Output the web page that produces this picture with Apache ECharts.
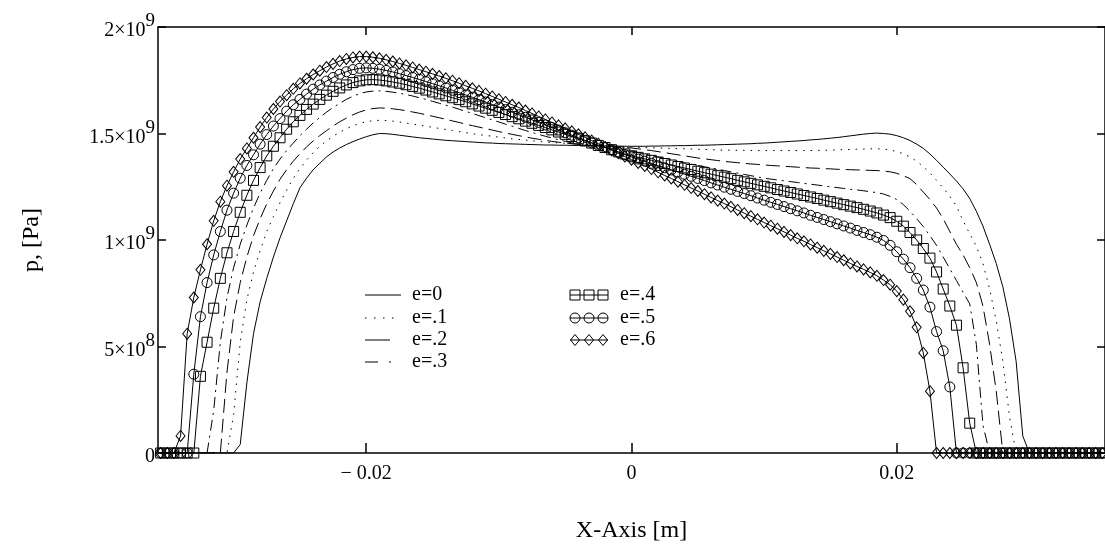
<!DOCTYPE html>
<html><head><meta charset="utf-8">
<script src="https://cdn.jsdelivr.net/npm/echarts@6/dist/echarts.min.js"></script>
<style>html,body{margin:0;padding:0;background:#fff}#c{width:1105px;height:548px}</style>
</head><body><div id="c"></div>
<script>
// x positions in mm (axis labelled in metres), pressure in units of 1e9 Pa
const xsMM = [
 -35.5,-35,-34.5,-34,-33.5,-33,-32.5,-32,-31.5,-31,
 -30.5,-30,-29.5,-29,-28.5,-28,-27.5,-27,-26.5,-26,
 -25.5,-25,-24.5,-24,-23.5,-23,-22.5,-22,-21.5,-21,
 -20.5,-20,-19.5,-19,-18.5,-18,-17.5,-17,-16.5,-16,
 -15.5,-15,-14.5,-14,-13.5,-13,-12.5,-12,-11.5,-11,
 -10.5,-10,-9.5,-9,-8.5,-8,-7.5,-7,-6.5,-6,
 -5.5,-5,-4.5,-4,-3.5,-3,-2.5,-2,-1.5,-1,
 -0.5,0,0.5,1,1.5,2,2.5,3,3.5,4,
 4.5,5,5.5,6,6.5,7,7.5,8,8.5,9,
 9.5,10,10.5,11,11.5,12,12.5,13,13.5,14,
 14.5,15,15.5,16,16.5,17,17.5,18,18.5,19,
 19.5,20,20.5,21,21.5,22,22.5,23,23.5,24,
 24.5,25,25.5,26,26.5,27,27.5,28,28.5,29,
 29.5,30,30.5,31,31.5,32,32.5,33,33.5,34,34.5,35,35.5
];
const pE0 = [
 0,0,0,0,0,0,0,0,0,0,
 0,0,0.04,0.33,0.56,0.71,0.82,0.92,1.01,1.09,
 1.17,1.245,1.29,1.33,1.36,1.39,1.413,1.432,1.448,1.462,
 1.474,1.485,1.494,1.5,1.499,1.496,1.492,1.488,1.484,1.48,
 1.477,1.474,1.471,1.468,1.466,1.464,1.462,1.46,1.458,1.456,
 1.455,1.453,1.452,1.451,1.45,1.449,1.448,1.447,1.446,1.446,
 1.445,1.445,1.444,1.444,1.443,1.443,1.442,1.442,1.441,1.441,
 1.44,1.44,1.44,1.44,1.441,1.441,1.442,1.442,1.443,1.443,
 1.444,1.445,1.445,1.446,1.447,1.448,1.449,1.45,1.451,1.452,
 1.454,1.455,1.457,1.459,1.461,1.463,1.465,1.467,1.47,1.472,
 1.475,1.478,1.481,1.485,1.489,1.493,1.497,1.5,1.502,1.5,
 1.497,1.49,1.48,1.467,1.45,1.43,1.404,1.374,1.342,1.31,
 1.277,1.24,1.195,1.135,1.065,0.98,0.89,0.78,0.63,0.43,
 0.08,0,0,0,0,0,0,0,0,0,0,0,0
];
const pE1 = [
 0,0,0,0,0,0,0,0,0,0,
 0,0.18,0.52,0.72,0.85,0.95,1.04,1.11,1.175,1.235,
 1.29,1.335,1.375,1.41,1.44,1.465,1.487,1.506,1.522,1.536,
 1.547,1.555,1.56,1.562,1.561,1.558,1.554,1.549,1.544,1.539,
 1.534,1.529,1.524,1.519,1.514,1.509,1.504,1.499,1.495,1.491,
 1.487,1.483,1.479,1.475,1.472,1.469,1.466,1.463,1.46,1.458,
 1.456,1.454,1.452,1.45,1.448,1.446,1.444,1.442,1.44,1.438,
 1.437,1.436,1.435,1.434,1.433,1.432,1.431,1.43,1.429,1.428,
 1.427,1.426,1.425,1.424,1.423,1.422,1.422,1.421,1.421,1.42,
 1.42,1.42,1.42,1.42,1.42,1.42,1.42,1.42,1.42,1.421,
 1.421,1.422,1.423,1.424,1.425,1.426,1.427,1.428,1.428,1.427,
 1.423,1.415,1.405,1.39,1.37,1.345,1.315,1.28,1.245,1.205,
 1.16,1.09,1.03,0.97,0.89,0.77,0.62,0.43,0.17,0,
 0,0,0,0,0,0,0,0,0,0,0,0,0
];
const pE2 = [
 0,0,0,0,0,0,0,0,0,0,
 0.38,0.64,0.80,0.92,1.02,1.10,1.17,1.23,1.285,1.33,
 1.37,1.405,1.437,1.465,1.49,1.513,1.535,1.555,1.572,1.588,
 1.601,1.611,1.617,1.62,1.619,1.616,1.612,1.607,1.601,1.595,
 1.588,1.581,1.574,1.567,1.559,1.552,1.544,1.537,1.53,1.523,
 1.516,1.509,1.502,1.496,1.49,1.484,1.478,1.473,1.468,1.463,
 1.459,1.455,1.452,1.449,1.446,1.444,1.442,1.44,1.438,1.436,
 1.434,1.432,1.428,1.424,1.42,1.415,1.41,1.405,1.4,1.395,
 1.39,1.385,1.381,1.377,1.373,1.369,1.366,1.363,1.36,1.357,
 1.355,1.352,1.35,1.348,1.346,1.344,1.342,1.34,1.338,1.337,
 1.335,1.334,1.332,1.331,1.33,1.329,1.328,1.327,1.326,1.324,
 1.32,1.313,1.302,1.288,1.26,1.225,1.19,1.15,1.1,1.04,
 0.98,0.93,0.87,0.8,0.69,0.51,0.29,0,0,0,
 0,0,0,0,0,0,0,0,0,0,0,0,0
];
const pE3 = [
 0,0,0,0,0,0,0,0,0.2,0.52,
 0.73,0.87,0.98,1.07,1.15,1.22,1.28,1.335,1.38,1.42,
 1.455,1.49,1.52,1.55,1.575,1.6,1.622,1.642,1.66,1.675,
 1.687,1.695,1.699,1.7,1.698,1.694,1.689,1.683,1.676,1.668,
 1.66,1.651,1.642,1.633,1.624,1.614,1.604,1.594,1.584,1.574,
 1.564,1.554,1.544,1.534,1.524,1.514,1.505,1.496,1.487,1.479,
 1.471,1.463,1.456,1.45,1.445,1.441,1.437,1.434,1.43,1.426,
 1.422,1.418,1.411,1.404,1.397,1.39,1.383,1.376,1.369,1.362,
 1.356,1.35,1.344,1.338,1.332,1.326,1.32,1.314,1.308,1.302,
 1.296,1.29,1.286,1.282,1.278,1.274,1.27,1.266,1.262,1.258,
 1.254,1.25,1.246,1.242,1.238,1.235,1.231,1.227,1.222,1.216,
 1.205,1.19,1.166,1.135,1.1,1.063,1.02,0.975,0.92,0.865,
 0.81,0.755,0.7,0.51,0.13,0,0,0,0,0,
 0,0,0,0,0,0,0,0,0,0,0,0,0
];
const pE4 = [
 0,0,0,0,0,0,0.36,0.52,0.68,0.82,
 0.94,1.04,1.13,1.21,1.28,1.34,1.395,1.44,1.48,1.52,
 1.555,1.585,1.613,1.638,1.66,1.68,1.698,1.714,1.728,1.739,
 1.747,1.752,1.753,1.751,1.747,1.742,1.736,1.729,1.721,1.713,
 1.704,1.695,1.686,1.677,1.668,1.659,1.649,1.639,1.629,1.619,
 1.609,1.599,1.589,1.579,1.569,1.558,1.548,1.538,1.528,1.517,
 1.507,1.496,1.486,1.475,1.465,1.455,1.444,1.434,1.424,1.414,
 1.404,1.395,1.388,1.381,1.374,1.366,1.359,1.352,1.345,1.338,
 1.331,1.323,1.316,1.309,1.302,1.295,1.288,1.28,1.273,1.266,
 1.259,1.252,1.245,1.237,1.23,1.223,1.216,1.209,1.202,1.195,
 1.187,1.18,1.173,1.166,1.159,1.152,1.144,1.136,1.127,1.117,
 1.105,1.088,1.065,1.035,1.0,0.96,0.915,0.85,0.77,0.69,
 0.6,0.4,0.14,0,0,0,0,0,0,0,
 0,0,0,0,0,0,0,0,0,0,0,0,0
];
const pE5 = [
 0,0,0,0,0,0.37,0.64,0.80,0.93,1.04,
 1.14,1.22,1.29,1.35,1.40,1.45,1.495,1.535,1.57,1.605,
 1.635,1.66,1.685,1.708,1.728,1.746,1.763,1.778,1.79,1.80,
 1.806,1.808,1.806,1.802,1.796,1.789,1.781,1.772,1.763,1.754,
 1.744,1.734,1.724,1.714,1.703,1.692,1.681,1.67,1.659,1.648,
 1.636,1.624,1.612,1.60,1.588,1.576,1.564,1.552,1.54,1.528,
 1.516,1.504,1.492,1.48,1.468,1.456,1.445,1.434,1.423,1.412,
 1.401,1.39,1.38,1.37,1.36,1.349,1.339,1.329,1.319,1.309,
 1.299,1.289,1.279,1.268,1.258,1.248,1.238,1.228,1.218,1.208,
 1.197,1.187,1.177,1.167,1.157,1.147,1.137,1.127,1.116,1.106,
 1.096,1.086,1.076,1.066,1.056,1.045,1.035,1.025,1.013,0.998,
 0.975,0.945,0.91,0.87,0.82,0.765,0.685,0.57,0.48,0.31,
 0,0,0,0,0,0,0,0,0,0,
 0,0,0,0,0,0,0,0,0,0,0,0,0
];
const pE6 = [
 0,0,0,0.08,0.56,0.73,0.86,0.98,1.09,1.18,
 1.255,1.32,1.38,1.43,1.48,1.53,1.575,1.615,1.65,1.68,
 1.71,1.735,1.757,1.777,1.795,1.812,1.827,1.84,1.85,1.857,
 1.861,1.861,1.858,1.853,1.846,1.838,1.829,1.82,1.81,1.80,
 1.79,1.78,1.77,1.759,1.748,1.736,1.724,1.712,1.70,1.687,
 1.674,1.661,1.648,1.635,1.622,1.608,1.594,1.58,1.566,1.552,
 1.538,1.524,1.51,1.496,1.482,1.467,1.452,1.437,1.422,1.407,
 1.392,1.377,1.362,1.348,1.333,1.318,1.303,1.289,1.274,1.259,
 1.244,1.23,1.215,1.2,1.185,1.171,1.156,1.141,1.126,1.112,
 1.097,1.082,1.067,1.053,1.038,1.023,1.008,0.994,0.979,0.964,
 0.949,0.935,0.92,0.905,0.89,0.876,0.862,0.848,0.832,0.812,
 0.79,0.76,0.72,0.665,0.59,0.47,0.29,0,0,0,
 0,0,0,0,0,0,0,0,0,0,
 0,0,0,0,0,0,0,0,0,0,0,0,0
];
const seriesNames = ['e=0','e=.1','e=.2','e=.3','e=.4','e=.5','e=.6'];
const xTickValues = [-20, 0, 20];
const xTickLabels = ['\u2212 0.02', '0', '0.02'];
const yTickValues = [0, 0.5, 1, 1.5, 2];
const yTickMantissa = ['0', '5\u00d710', '1\u00d710', '1.5\u00d710', '2\u00d710'];
const yTickExponent = ['', '8', '9', '9', '9'];

const FONT = '"Liberation Serif", "Times New Roman", serif';
const BLACK = '#000';
const allData = [pE0, pE1, pE2, pE3, pE4, pE5, pE6];
const dashes = ['solid', [1.5, 6], [14, 6], [11, 5, 2, 5], 'solid', 'solid', 'solid'];
const symbols = ['none', 'none', 'none', 'none', 'rect', 'circle', 'diamond'];
const symbolSizes = [0, 0, 0, 0, 10, 10, [9, 11]];

const chart = echarts.init(document.getElementById('c'), null, {renderer: 'canvas'});

const series = allData.map((vals, k) => ({
  name: seriesNames[k],
  type: 'line',
  data: xsMM.map((x, i) => [x, vals[i]]),
  symbol: symbols[k],
  symbolSize: symbolSizes[k],
  showSymbol: symbols[k] !== 'none',
  showAllSymbol: true,
  smooth: false,
  silent: true,
  lineStyle: {color: BLACK, width: 1, type: dashes[k]},
  itemStyle: {color: 'rgba(0,0,0,0)', borderColor: BLACK, borderWidth: 1},
  emphasis: {disabled: true}
}));

// legend drawn as graphic elements (two columns, like the reference)
const legendGraphics = [];
const LEG_FS = 20;
const txt = (t, x, y) => ({type: 'text', silent: true, style: {text: t, x: x, y: y, fill: BLACK,
  fontFamily: FONT, fontSize: LEG_FS, align: 'left', verticalAlign: 'middle'}});
const ln = (x1, x2, y, dash) => ({type: 'line', silent: true, shape: {x1: x1, y1: y, x2: x2, y2: y},
  style: {stroke: BLACK, lineWidth: 1, lineDash: dash || null}});
const col1Y = [295, 318, 340, 362];
legendGraphics.push(ln(365, 401, col1Y[0]), txt(seriesNames[0], 412, col1Y[0]));
legendGraphics.push(ln(365, 394, col1Y[1], [1.5, 7.5]), txt(seriesNames[1], 412, col1Y[1]));
legendGraphics.push(ln(365, 390, col1Y[2]), txt(seriesNames[2], 412, col1Y[2]));
legendGraphics.push(ln(365, 378, col1Y[3]), ln(389, 391, col1Y[3]), txt(seriesNames[3], 412, col1Y[3]));
const mx = [575, 589, 603];
const rowY = [295, 318, 340];
legendGraphics.push(ln(570, 608, rowY[0]), ln(570, 608, rowY[1]), ln(570, 608, rowY[2]));
mx.forEach(cx => {
  legendGraphics.push({type: 'rect', silent: true, shape: {x: cx - 5, y: rowY[0] - 5, width: 10, height: 10},
    style: {fill: 'none', stroke: BLACK, lineWidth: 1}});
  legendGraphics.push({type: 'circle', silent: true, shape: {cx: cx, cy: rowY[1], r: 5},
    style: {fill: 'none', stroke: BLACK, lineWidth: 1}});
  legendGraphics.push({type: 'polygon', silent: true, shape: {points: [[cx, rowY[2] - 5.5], [cx + 4.5, rowY[2]], [cx, rowY[2] + 5.5], [cx - 4.5, rowY[2]]]},
    style: {fill: 'none', stroke: BLACK, lineWidth: 1}});
});
legendGraphics.push(txt(seriesNames[4], 620, rowY[0]), txt(seriesNames[5], 620, rowY[1]), txt(seriesNames[6], 620, rowY[2]));

// sanity check of array lengths (shows text only if something is off)
const badLen = allData.map(a => a.length).filter(n => n !== xsMM.length);
if (badLen.length) {
  legendGraphics.push({type: 'text', style: {text: 'LEN ' + xsMM.length + ' / ' + allData.map(a => a.length).join(','),
    x: 700, y: 420, fill: 'red', fontSize: 16}});
}

const axisLineStyle = {color: BLACK, width: 1.5};

const option = {
  animation: false,
  backgroundColor: '#fff',
  grid: {left: 158, right: -6, top: 27, bottom: 85, containLabel: false},
  xAxis: [{
    type: 'value', min: -35.7, max: 35.7, position: 'bottom',
    axisLine: {show: true, onZero: false, lineStyle: axisLineStyle},
    axisTick: {show: true, inside: true, length: 10, customValues: xTickValues, lineStyle: axisLineStyle},
    axisLabel: {show: true, customValues: xTickValues, margin: 11, color: BLACK, fontFamily: FONT, fontSize: 20,
      formatter: v => { const i = xTickValues.indexOf(v); return i >= 0 ? xTickLabels[i] : ''; }},
    splitLine: {show: false},
    name: 'X-Axis [m]', nameLocation: 'middle', nameGap: 66,
    nameTextStyle: {color: BLACK, fontFamily: FONT, fontSize: 24}
  }, {
    type: 'value', min: -35.7, max: 35.7, position: 'top',
    axisLine: {show: true, onZero: false, lineStyle: axisLineStyle},
    axisTick: {show: true, inside: true, length: 8, customValues: xTickValues, lineStyle: axisLineStyle},
    axisLabel: {show: false}, splitLine: {show: false}
  }],
  yAxis: [{
    type: 'value', min: 0, max: 2, interval: 0.5, position: 'left',
    axisLine: {show: true, onZero: false, lineStyle: axisLineStyle},
    axisTick: {show: true, inside: true, length: 8, lineStyle: axisLineStyle},
    axisLabel: {
      show: true, margin: 3, padding: [8, 0, 0, 0], color: BLACK, fontFamily: FONT, fontSize: 20,
      formatter: v => {
        const i = yTickValues.findIndex(t => Math.abs(t - v) < 1e-9);
        if (i < 0) return '';
        if (!yTickExponent[i]) return '{z|' + yTickMantissa[i] + '}';
        return '{b|' + yTickMantissa[i] + '}{s|' + yTickExponent[i] + '}';
      },
      rich: {
        b: {fontFamily: FONT, fontSize: 20, color: BLACK, lineHeight: 20, verticalAlign: 'bottom'},
        s: {fontFamily: FONT, fontSize: 19, color: BLACK, lineHeight: 20, verticalAlign: 'bottom', padding: [0, 0, 10, 0]},
        z: {fontFamily: FONT, fontSize: 20, color: BLACK, lineHeight: 20, verticalAlign: 'bottom', padding: [16, 0, 0, 0]}
      }
    },
    splitLine: {show: false},
    name: 'p, [Pa]', nameLocation: 'middle', nameGap: 114, nameRotate: 90,
    nameTextStyle: {color: BLACK, fontFamily: FONT, fontSize: 24}
  }, {
    type: 'value', min: 0, max: 2, interval: 0.5, position: 'right',
    axisLine: {show: true, onZero: false, lineStyle: axisLineStyle},
    axisTick: {show: true, inside: true, length: 8, lineStyle: axisLineStyle},
    axisLabel: {show: false}, splitLine: {show: false}
  }],
  series: series,
  graphic: legendGraphics
};
chart.setOption(option);
</script>
</body></html>
